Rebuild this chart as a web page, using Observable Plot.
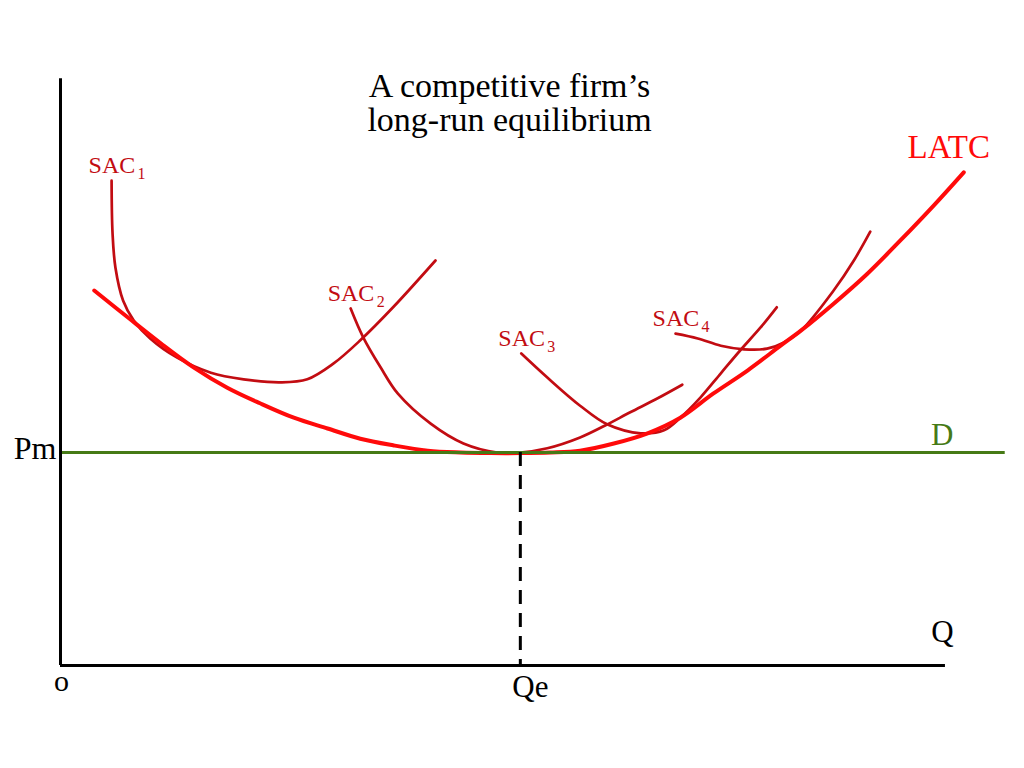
<!DOCTYPE html>
<html>
<head>
<meta charset="utf-8">
<script src="https://cdn.jsdelivr.net/npm/d3@7"></script>
<script src="https://cdn.jsdelivr.net/npm/@observablehq/plot@0.6"></script>
<style>
  html, body { margin: 0; padding: 0; background: #fff; }
  #chart svg { display: block; }
</style>
</head>
<body>
<div id="chart"></div>
<script>
// ---- Data (quantity Q, average cost) ----
const LATC = [[3.5,62.5],[7.0,58.0],[10.4,53.7],[13.8,49.7],[17.3,46.3],[20.7,43.7],[24.2,41.3],[27.7,39.5],[31.1,37.8],[34.5,36.7],[38.1,35.8],[41.5,35.5],[44.6,35.4],[47.7,35.4],[50.8,35.5],[53.9,35.8],[57.4,37.0],[60.9,38.7],[64.3,41.3],[67.7,45.3],[71.3,49.2],[74.7,53.3],[76.8,55.8],[80.2,60.3],[83.7,65.3],[87.1,70.8],[90.6,76.7],[93.7,82.2]];
const SAC1 = [[5.3,80.8],[5.4,72.0],[5.7,66.3],[6.5,60.8],[7.6,57.5],[9.3,54.5],[12.1,51.3],[15.6,48.8],[19.0,47.7],[22.8,47.2],[25.6,47.7],[28.3,50.3],[31.1,54.2],[34.5,59.7],[38.9,67.5]];
const SAC2 = [[30.1,59.5],[31.4,54.7],[33.2,49.7],[35.0,45.3],[38.4,40.3],[41.8,37.0],[45.3,35.5],[47.7,35.5],[50.5,36.2],[53.9,38.0],[56.5,40.0],[59.1,42.2],[61.9,44.5],[64.5,46.8]];
const SAC3 = [[47.8,52.0],[50.5,48.0],[53.9,43.3],[56.7,40.2],[60.2,38.7],[62.6,39.2],[64.3,41.3],[66.4,44.7],[68.5,48.7],[70.5,52.5],[72.6,56.3],[74.3,59.7]];
const SAC4 = [[63.8,55.3],[66.1,54.5],[68.5,53.3],[70.9,52.7],[73.3,52.8],[75.0,53.8],[76.8,55.8],[80.2,62.5],[82.3,67.5],[84.0,72.3]];
const sacNames = ["SAC", "SAC", "SAC", "SAC"];
const sacSubs = ["1", "2", "3", "4"];
const Pm = 35.5;          // market price
const Qe = 47.7;          // equilibrium quantity
const xAxisEnd = 91.8;
const yAxisEnd = 97.8;
const demandEnd = 98;
const titleLines = ["A competitive firm’s", "long-run equilibrium"];

// ---- Build tables ----
const sacCurves = [SAC1, SAC2, SAC3, SAC4];
const sacRows = sacCurves.flatMap((pts, i) => pts.map(([q, c]) => ({curve: "SAC" + sacSubs[i], q, c})));
const latcRows = LATC.map(([q, c]) => ({curve: "LATC", q, c}));
const sacStarts = sacCurves.map((pts, i) => ({q: pts[0][0], c: pts[0][1], name: sacNames[i], sub: sacSubs[i]}));
const latcEnd = {q: LATC[LATC.length - 1][0], c: LATC[LATC.length - 1][1], name: "LATC"};

const SAC_COLOR = "#c20c12";
const LATC_COLOR = "#ff0a0a";
const D_COLOR = "#467a16";
const FONT = "'Liberation Serif', 'Times New Roman', serif";

const chart = Plot.plot({
  width: 1024,
  height: 768,
  marginLeft: 60,
  marginRight: 0,
  marginTop: 65,
  marginBottom: 103,
  style: {fontFamily: FONT, background: "#fff"},
  x: {domain: [0, 100], axis: null},
  y: {domain: [0, 100], axis: null},
  marks: [
    // Short-run average cost curves
    Plot.line(sacRows, {x: "q", y: "c", z: "curve", stroke: SAC_COLOR, strokeWidth: 2.7, curve: "catmull-rom"}),
    // Long-run average total cost
    Plot.line(latcRows, {x: "q", y: "c", stroke: LATC_COLOR, strokeWidth: 4, curve: "catmull-rom"}),
    // Demand (price) line
    Plot.ruleY([Pm], {x1: 0, x2: demandEnd, stroke: D_COLOR, strokeWidth: 3}),
    // Dashed drop line to Qe
    Plot.ruleX([Qe], {y1: Pm, y2: 0, stroke: "#000", strokeWidth: 3, strokeDasharray: "14,9"}),
    // Axes
    Plot.ruleX([0], {y1: 0, y2: yAxisEnd, stroke: "#000", strokeWidth: 3}),
    Plot.ruleY([0], {x1: 0, x2: xAxisEnd, stroke: "#000", strokeWidth: 3}),
    // SAC labels with subscripts
    Plot.text(sacStarts, {x: "q", y: "c", text: "name", textAnchor: "start", lineAnchor: "bottom", dx: -23, dy: -8, fontSize: 24, fill: SAC_COLOR}),
    Plot.text(sacStarts, {x: "q", y: "c", text: "sub", textAnchor: "start", lineAnchor: "bottom", dx: 26, dy: -2, fontSize: 16, fill: SAC_COLOR}),
    // LATC label
    Plot.text([latcEnd], {x: "q", y: "c", text: "name", textAnchor: "middle", lineAnchor: "bottom", dx: -15, dy: -14, fontSize: 33, fill: LATC_COLOR}),
    // D label
    Plot.text([{q: demandEnd, c: Pm, t: "D"}], {x: "q", y: "c", text: "t", textAnchor: "middle", lineAnchor: "bottom", dx: -63, dy: -8, fontSize: 31, fill: D_COLOR}),
    // Pm label
    Plot.text([{q: 0, c: Pm, t: "Pm"}], {x: "q", y: "c", text: "t", textAnchor: "end", lineAnchor: "bottom", dx: -4, dy: 6, fontSize: 32, fill: "#000"}),
    // Qe label
    Plot.text([{q: Qe, c: 0, t: "Qe"}], {x: "q", y: "c", text: "t", textAnchor: "middle", lineAnchor: "bottom", dx: 10, dy: 31, fontSize: 31, fill: "#000"}),
    // Q label
    Plot.text([{q: xAxisEnd, c: 0, t: "Q"}], {x: "q", y: "c", text: "t", textAnchor: "middle", lineAnchor: "bottom", dx: -3, dy: -24, fontSize: 31, fill: "#000"}),
    // origin label
    Plot.text([{q: 0, c: 0, t: "o"}], {x: "q", y: "c", text: "t", textAnchor: "middle", lineAnchor: "bottom", dx: 1, dy: 25, fontSize: 30, fill: "#000"}),
    // Title
    Plot.text([titleLines.join("\n")], {frameAnchor: "top", text: d => d, textAnchor: "middle", lineAnchor: "top", lineHeight: 1.0, dx: -33, dy: 7, fontSize: 34, fill: "#000"})
  ]
});
document.getElementById("chart").appendChild(chart);
</script>
</body>
</html>
